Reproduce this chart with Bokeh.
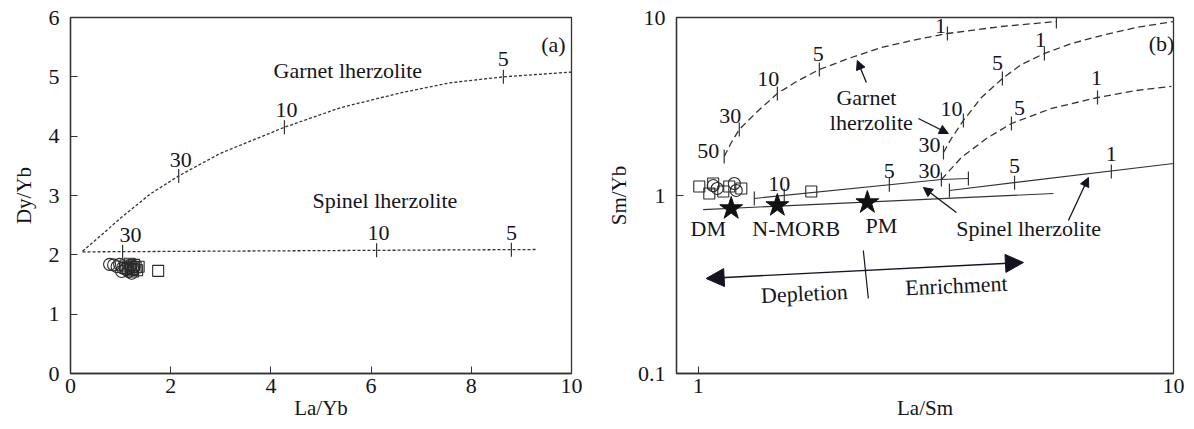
import numpy as np
from bokeh.plotting import figure
from bokeh.layouts import row
from bokeh.models import (ColumnDataSource, Arrow, NormalHead, FixedTicker,
                          CustomJSTickFormatter, Range1d, Label)
from bokeh.core.properties import value
from bokeh.embed import file_html
from bokeh.resources import INLINE

FONT = "Liberation Serif"
INK = "#141420"
LINE = "#333333"

# ---------------- panel (a): La/Yb vs Dy/Yb ----------------
a_circle_x = [0.78, 0.86, 0.93, 0.98, 1.04, 1.10, 1.16, 1.22, 1.27, 1.02, 1.19]
a_circle_y = [1.84, 1.83, 1.80, 1.84, 1.78, 1.76, 1.72, 1.69, 1.80, 1.72, 1.82]
a_square_x = [1.10, 1.14, 1.18, 1.21, 1.24, 1.27, 1.30, 1.33, 1.36, 1.25, 1.20, 1.75]
a_square_y = [1.82, 1.78, 1.85, 1.80, 1.76, 1.83, 1.79, 1.74, 1.80, 1.72, 1.75, 1.73]

# garnet lherzolite melting curve
a_grt_x = [0.24, 0.60, 1.00, 1.60, 2.16, 2.99, 4.27, 5.39, 6.59, 7.58, 8.64, 10.0]
a_grt_y = [2.06, 2.32, 2.62, 3.03, 3.33, 3.71, 4.15, 4.48, 4.73, 4.90, 5.00, 5.08]
a_grt_tick_x = [2.16, 4.27, 8.64]
a_grt_tick_y = [3.33, 4.15, 5.00]
a_grt_tick_lbl = ["30", "10", "5"]

# spinel lherzolite melting curve
a_spl_x = [0.24, 9.32]
a_spl_y = [2.05, 2.09]
a_spl_tick_x = [1.04, 6.11, 8.80]
a_spl_tick_lbl = ["30", "10", "5"]

# ---------------- panel (b): La/Sm vs Sm/Yb ----------------
b_square_x = [1.005, 1.055, 1.075, 1.129, 1.162, 1.232, 1.729]
b_square_y = [1.123, 1.026, 1.168, 1.053, 1.123, 1.095, 1.053]
b_circle_x = [1.075, 1.096, 1.191, 1.202]
b_circle_y = [1.138, 1.095, 1.168, 1.067]

ref_names = ["DM", "N-MORB", "PM"]
ref_x = [1.173, 1.467, 2.269]
ref_y = [0.845, 0.879, 0.913]

# garnet lherzolite curves
g1_x = [1.134, 1.174, 1.220, 1.325, 1.467, 1.624, 1.798, 2.099, 2.428, 2.877, 3.344, 4.345, 5.67]
g1_y = [1.656, 1.985, 2.349, 2.927, 3.74, 4.43, 5.10, 5.96, 6.78, 7.52, 8.13, 8.90, 9.49]
g1_tick_x = [1.134, 1.220, 1.467, 1.798, 3.344, 5.67]
g1_tick_y = [1.656, 2.349, 3.74, 5.10, 8.13, 9.49]
g1_tick_lbl = ["50", "30", "10", "5", "1", ""]

g2_x = [3.281, 3.409, 3.613, 3.943, 4.365, 4.786, 5.35, 6.10, 7.05, 8.36, 10.0]
g2_y = [1.744, 2.090, 2.638, 3.553, 4.543, 5.445, 6.28, 7.14, 7.92, 8.79, 9.49]
g2_tick_x = [3.281, 3.613, 4.365, 5.35]
g2_tick_y = [1.744, 2.638, 4.543, 6.28]
g2_tick_lbl = ["30", "10", "5", "1"]

g3_x = [3.248, 3.579, 4.04, 4.56, 5.536, 6.92, 8.36, 9.90]
g3_y = [1.230, 1.635, 2.090, 2.538, 3.082, 3.553, 3.89, 4.10]
g3_tick_x = [3.248, 4.56, 6.92]
g3_tick_y = [1.230, 2.538, 3.553]
g3_tick_lbl = ["30", "5", "1"]

# spinel lherzolite curves
s1_x = [1.312, 3.248, 3.702]
s1_y = [0.962, 1.230, 1.246]
s1_tick_x = [1.312, 1.517, 2.524, 3.702]
s1_tick_y = [0.962, 1.000, 1.148, 1.246]
s1_tick_lbl = ["", "10", "5", ""]

s2_x = [3.377, 10.0]
s2_y = [1.067, 1.513]
s2_tick_x = [3.377, 4.63, 7.40]
s2_tick_y = [1.067, 1.180, 1.364]
s2_tick_lbl = ["", "5", "1"]

# source mixing line
mix_x = [1.024, 5.59]
mix_y = [0.834, 1.026]


def style(p):
    p.outline_line_color = LINE
    p.outline_line_width = 1.3
    p.outline_line_alpha = 1
    p.grid.visible = False
    p.background_fill_color = "white"
    p.border_fill_color = "white"
    for ax in (p.xaxis[0], p.yaxis[0]):
        ax.axis_line_color = LINE
        ax.axis_line_width = 1.3
        ax.major_tick_line_color = LINE
        ax.major_tick_in = 7
        ax.major_tick_out = 0
        ax.minor_tick_line_color = None
        ax.major_label_text_font = FONT
        ax.major_label_text_font_size = "22px"
        ax.major_label_text_color = INK
        ax.axis_label_text_font = FONT
        ax.axis_label_text_font_size = "21px"
        ax.axis_label_text_font_style = "normal"
        ax.axis_label_text_color = INK
    p.xaxis.major_label_standoff = 5
    p.xaxis.axis_label_standoff = 0
    p.yaxis.major_label_standoff = 11
    p.yaxis.axis_label_standoff = 4


def tick_marks(p, xs, ys):
    p.scatter(xs, ys, marker="dash", angle=np.pi / 2, size=14,
              line_color=LINE, line_width=1.2)


def tick_labels(p, xs, ys, labels, dx, dy):
    src = ColumnDataSource(dict(x=xs, y=ys, t=labels, dx=dx, dy=dy))
    p.text("x", "y", text="t", x_offset="dx", y_offset="dy", source=src,
           text_font=value(FONT), text_font_size="22px", text_color=INK,
           text_align="center", text_baseline="middle")


def label(p, x, y, text, angle=0.0):
    p.add_layout(Label(x=x, y=y, text=text, text_font=FONT, text_font_size="22px",
                       text_color=INK, text_align="center", text_baseline="middle",
                       angle=angle))


# ---------- (a) ----------
p1 = figure(width=600, height=429, output_backend="svg", toolbar_location=None,
            x_range=Range1d(0, 10), y_range=Range1d(0, 6),
            min_border_left=70, min_border_right=29, min_border_top=16,
            min_border_bottom=54)
style(p1)
p1.yaxis.axis_label_standoff = 10
p1.xaxis.axis_label = "La/Yb"
p1.yaxis.axis_label = "Dy/Yb"
p1.xaxis.ticker = FixedTicker(ticks=[0, 2, 4, 6, 8, 10])
p1.yaxis.ticker = FixedTicker(ticks=[0, 1, 2, 3, 4, 5, 6])

p1.line(a_grt_x, a_grt_y, line_color=LINE, line_width=1.3, line_dash="3 2")
p1.line(a_spl_x, a_spl_y, line_color=LINE, line_width=1.3, line_dash="3 2")
tick_marks(p1, a_grt_tick_x, a_grt_tick_y)
a_spl_tick_y = list(np.interp(a_spl_tick_x, a_spl_x, a_spl_y))
tick_marks(p1, a_spl_tick_x, a_spl_tick_y)
tick_labels(p1, a_grt_tick_x, a_grt_tick_y, a_grt_tick_lbl, [2, 2, 0], [-16, -17, -18])
tick_labels(p1, a_spl_tick_x, a_spl_tick_y, a_spl_tick_lbl, [8, 2, 0], [-17, -17, -17])

p1.scatter(a_circle_x, a_circle_y, marker="circle", size=12, fill_color=None,
           line_color="#2a2a2a", line_width=1.1)
p1.scatter(a_square_x, a_square_y, marker="square", size=11, fill_color=None,
           line_color="#2a2a2a", line_width=1.1)

label(p1, 5.59, 5.10, "Garnet  lherzolite")
label(p1, 6.33, 2.91, "Spinel  lherzolite")
label(p1, 9.64, 5.55, "(a)")

# ---------- (b) ----------
p2 = figure(width=594, height=429, output_backend="svg", toolbar_location=None,
            x_axis_type="log", y_axis_type="log",
            x_range=Range1d(0.9, 10), y_range=Range1d(0.1, 10),
            min_border_left=76, min_border_right=21, min_border_top=17,
            min_border_bottom=56)
style(p2)
p2.xaxis.axis_label = "La/Sm"
p2.yaxis.axis_label = "Sm/Yb"
p2.xaxis.ticker = FixedTicker(ticks=[1, 10])
p2.yaxis.ticker = FixedTicker(ticks=[0.1, 1, 10])
p2.xaxis.formatter = CustomJSTickFormatter(code="return tick.toString();")
p2.yaxis.formatter = CustomJSTickFormatter(code="return tick.toString();")

for xs, ys in ((g1_x, g1_y), (g2_x, g2_y), (g3_x, g3_y)):
    p2.line(xs, ys, line_color=LINE, line_width=1.3, line_dash="7 4")
for xs, ys in ((s1_x, s1_y), (s2_x, s2_y), (mix_x, mix_y)):
    p2.line(xs, ys, line_color=LINE, line_width=1.2)

tick_marks(p2, g1_tick_x, g1_tick_y)
tick_marks(p2, g2_tick_x, g2_tick_y)
tick_marks(p2, g3_tick_x, g3_tick_y)
tick_marks(p2, s1_tick_x, s1_tick_y)
tick_marks(p2, s2_tick_x, s2_tick_y)

tick_labels(p2, g1_tick_x, g1_tick_y, g1_tick_lbl,
            [-16, -9, -9, -1, -7, 0], [-6, -13, -15, -16, -8, 0])
tick_labels(p2, g2_tick_x, g2_tick_y, g2_tick_lbl,
            [-14, -12, -5, -4], [-8, -12, -15, -13])
tick_labels(p2, g3_tick_x, g3_tick_y, g3_tick_lbl,
            [-12, 8, -1], [-8, -16, -19])
tick_labels(p2, s1_tick_x, s1_tick_y, s1_tick_lbl,
            [0, -5, 0, 0], [0, -12, -14, 0])
tick_labels(p2, s2_tick_x, s2_tick_y, s2_tick_lbl,
            [0, 0, 0], [0, -17, -18])

p2.scatter(b_square_x, b_square_y, marker="square", size=11, fill_color=None,
           line_color="#2a2a2a", line_width=1.1)
p2.scatter(b_circle_x, b_circle_y, marker="circle", size=12, fill_color=None,
           line_color="#2a2a2a", line_width=1.1)
p2.scatter(ref_x, ref_y, marker="star", size=24, fill_color="#111111",
           line_color="#111111")

label(p2, 1.05, 0.653, "DM")
label(p2, 1.608, 0.653, "N-MORB")
label(p2, 2.428, 0.678, "PM")
label(p2, 2.258, 3.553, "Garnet")
label(p2, 2.313, 2.571, "lherzolite")
label(p2, 5.024, 0.653, "Spinel  lherzolite")
label(p2, 9.434, 7.14, "(b)")
label(p2, 1.672, 0.2815, "Depletion", angle=0.045)
label(p2, 3.493, 0.3121, "Enrichment", angle=0.045)

small_head = dict(size=9, fill_color=INK, line_color=INK)
for (xs, ys, xe, ye) in ((2.258, 4.313, 2.161, 5.734),
                         (2.905, 2.708, 3.36, 2.23),
                         (3.493, 0.8025, 2.977, 1.109),
                         (6.01, 0.7237, 6.623, 1.262)):
    p2.add_layout(Arrow(x_start=xs, y_start=ys, x_end=xe, y_end=ye,
                        line_color=INK, line_width=1.3,
                        end=NormalHead(**small_head)))

p2.add_layout(Arrow(x_start=1.039, y_start=0.3418, x_end=4.833, y_end=0.4204,
                    line_color=INK, line_width=1.4,
                    start=NormalHead(size=18, fill_color=INK, line_color=INK),
                    end=NormalHead(size=18, fill_color=INK, line_color=INK)))
p2.line([2.225, 2.280], [0.491, 0.2638], line_color=INK, line_width=1.2)

layout = row(p1, p2)
open("out.html", "w").write(file_html(layout, INLINE))
